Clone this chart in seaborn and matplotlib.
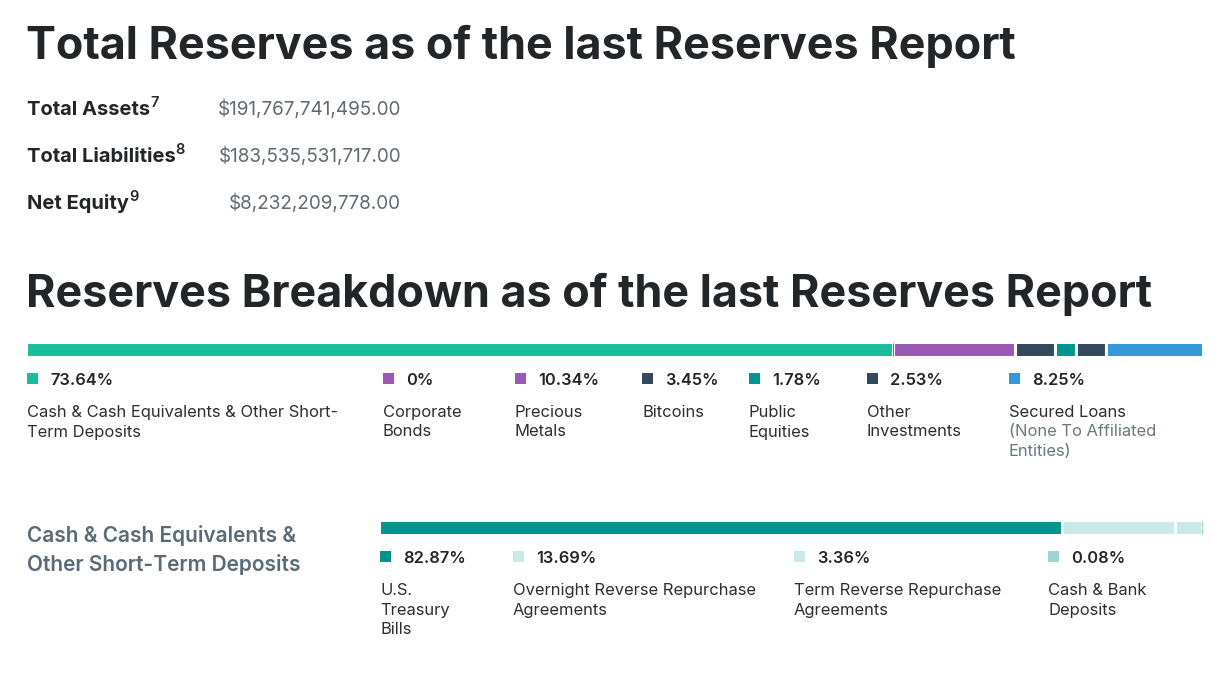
import numpy as np
import pandas as pd
import matplotlib.pyplot as plt
import seaborn as sns

# headline numbers
metric_labels = ["Total Assets", "Total Liabilities", "Net Equity"]
metric_notes = ["7", "8", "9"]
metric_values = [191767741495.00, 183535531717.00, 8232209778.00]

# reserves breakdown
reserve_names = [
    ["Cash & Cash Equivalents & Other Short-", "Term Deposits"],
    ["Corporate", "Bonds"],
    ["Precious", "Metals"],
    ["Bitcoins"],
    ["Public", "Equities"],
    ["Other", "Investments"],
    ["Secured Loans"],
]
reserve_pcts = [73.64, 0, 10.34, 3.45, 1.78, 2.53, 8.25]
reserve_colors = ["#1abc9c", "#9b59b6", "#9b59b6", "#34495e",
                  "#00948f", "#34495e", "#3498db"]
secured_note = ["(None To Affiliated", "Entities)"]

# cash & cash equivalents breakdown
cash_names = [
    ["U.S.", "Treasury", "Bills"],
    ["Overnight Reverse Repurchase", "Agreements"],
    ["Term Reverse Repurchase", "Agreements"],
    ["Cash & Bank", "Deposits"],
]
cash_pcts = [82.87, 13.69, 3.36, 0.08]
cash_colors = ["#00948f", "#c9e8e7", "#c9e8e7", "#9dd6d3"]

sns.set_theme(style="white")
plt.rcParams['font.family'] = ['Inter', 'DejaVu Sans']

W, H = 1226, 678
fig = plt.figure(figsize=(W / 100, H / 100), dpi=100)
fig.patch.set_facecolor("white")

ax = fig.add_axes([0, 0, 1, 1])
ax.set_xlim(0, W)
ax.set_ylim(H, 0)
ax.axis("off")

dark = "#222629"
gray = "#5f6a72"

ax.text(26, 59, "Total Reserves as of the last Reserves Report",
        fontsize=32.3, fontweight="bold", color=dark, va="baseline")
ax.text(26, 307, "Reserves Breakdown as of the last Reserves Report",
        fontsize=32.3, fontweight="bold", color=dark, va="baseline")

fig.canvas.draw()
renderer = fig.canvas.get_renderer()
inv = ax.transData.inverted()

# metrics rows
for i, (lab, note, val) in enumerate(zip(metric_labels, metric_notes, metric_values)):
    yb = 115 + i * 47
    t = ax.text(27, yb, lab, fontsize=14.5, fontweight="bold", color=dark,
                va="baseline")
    bb = t.get_window_extent(renderer)
    x_end = inv.transform((bb.x1, 0))[0]
    ax.text(x_end, yb - 8, note, fontsize=10.5, fontweight="semibold",
            color=dark, va="baseline")
    ax.text(401, yb, f"${val:,.2f}", fontsize=13.6, color=gray,
            ha="right", va="baseline")


def stacked_bar(rect, pcts, colors):
    bax = fig.add_axes(rect)
    pcts = np.asarray(pcts)
    left = np.concatenate([[0], np.cumsum(pcts)[:-1]])
    bax.barh(np.zeros(len(pcts)), pcts, left=left, height=1, color=colors,
             edgecolor="white", linewidth=2.2)
    # tiny shares still show up as a hairline, like the web widget
    tiny = pcts < 0.5
    bax.barh(np.zeros(tiny.sum()), pcts[tiny], left=left[tiny], height=0.86,
             color=np.array(colors)[tiny], edgecolor=np.array(colors)[tiny],
             linewidth=0.8)
    bax.set_xlim(0, pcts.sum())
    bax.set_ylim(-0.5, 0.5)
    bax.axis("off")
    return bax


stacked_bar([26 / W, 1 - 357 / H, 1177 / W, 15 / H], reserve_pcts, reserve_colors)
stacked_bar([379 / W, 1 - 535 / H, 824 / W, 15 / H], cash_pcts, cash_colors)


def legend_item(x, y_pct, pct, color, lines, extra=None):
    ax.add_patch(plt.Rectangle((x, y_pct - 12), 11, 11, color=color, lw=0))
    ax.text(x + 23, y_pct, f"{pct:g}%", fontsize=11.8, fontweight="semibold",
            color=dark, va="baseline")
    yb = y_pct + 32
    for ln in lines:
        ax.text(x, yb, ln, fontsize=11.9, color="#2b2f33", va="baseline")
        yb += 19.5
    if extra:
        for ln in extra:
            ax.text(x, yb, ln, fontsize=11.9, color="#6b7780", va="baseline")
            yb += 19.5


top_x = [27, 383, 515, 642, 749, 867, 1009]
for i, (x, p, c, names) in enumerate(zip(top_x, reserve_pcts, reserve_colors, reserve_names)):
    legend_item(x, 385, p, c, names, secured_note if i == 6 else None)

ax.text(27, 542, "Cash & Cash Equivalents &", fontsize=15,
        fontweight="semibold", color="#5b6a75", va="baseline")
ax.text(27, 571, "Other Short-Term Deposits", fontsize=15,
        fontweight="semibold", color="#5b6a75", va="baseline")

bot_x = [380, 513, 794, 1048]
for x, p, c, names in zip(bot_x, cash_pcts, cash_colors, cash_names):
    legend_item(x, 563, p, c, names)

fig.savefig("out.png", dpi=100, facecolor="white")
